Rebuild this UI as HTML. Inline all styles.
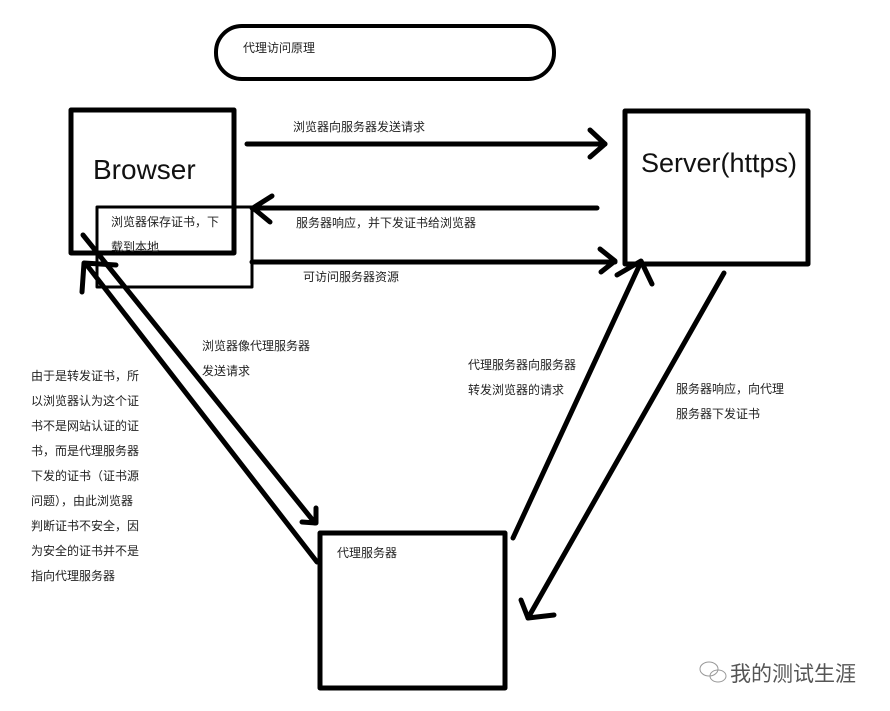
<!DOCTYPE html>
<html><head><meta charset="utf-8"><style>
html,body{margin:0;padding:0;background:#fff;}
svg{display:block;}
text{font-family:"Liberation Sans","Noto Sans CJK SC",sans-serif;fill:#222;font-size:12px;}
</style></head><body>
<svg width="890" height="711" viewBox="0 0 890 711" xmlns="http://www.w3.org/2000/svg">
<g fill="none" stroke="#000" stroke-linecap="round" stroke-linejoin="round">
<rect x="216" y="26" width="338" height="53" rx="26" stroke-width="4"/>
<rect x="71" y="110" width="163" height="143" stroke-width="5"/>
<rect x="97" y="207" width="155" height="80" stroke-width="3"/>
<rect x="625" y="111" width="183" height="153" stroke-width="5"/>
<rect x="320" y="533" width="185" height="155" stroke-width="5"/>
<g stroke-width="5">
<line x1="247" y1="144" x2="605" y2="144"/><polyline points="590,130 605,144 590,157"/>
<line x1="252" y1="208" x2="597" y2="208"/><polyline points="272,196 253,208 270,222"/>
<line x1="252" y1="262" x2="615" y2="262"/><polyline points="600,249 615,261 601,272"/>
<line x1="83" y1="235" x2="315" y2="523"/><polyline points="316,508 316,523 302,522"/>
<line x1="86" y1="264" x2="317" y2="562"/><polyline points="82,292 84,263 116,265"/>
<line x1="513" y1="538" x2="641" y2="262"/><polyline points="617,275 641,261 652,284"/>
<line x1="724" y1="273" x2="528" y2="618"/><polyline points="521,600 528,618 554,615"/>
</g>
</g>
<text x="243" y="52">代理访问原理</text>
<text x="93" y="179" style="font-size:28px;fill:#111">Browser</text>
<text x="641" y="172" style="font-size:27px;fill:#111">Server(https)</text>
<text x="111" y="226">浏览器保存证书，下</text>
<text x="111" y="251">载到本地</text>
<text x="293" y="131">浏览器向服务器发送请求</text>
<text x="296" y="227">服务器响应，并下发证书给浏览器</text>
<text x="303" y="281">可访问服务器资源</text>
<text x="337" y="557">代理服务器</text>
<text x="202" y="350">浏览器像代理服务器</text>
<text x="202" y="375">发送请求</text>
<text x="468" y="369">代理服务器向服务器</text>
<text x="468" y="394">转发浏览器的请求</text>
<text x="676" y="393">服务器响应，向代理</text>
<text x="676" y="418">服务器下发证书</text>
<g>
<text x="31" y="380">由于是转发证书，所</text>
<text x="31" y="405">以浏览器认为这个证</text>
<text x="31" y="430">书不是网站认证的证</text>
<text x="31" y="455">书，而是代理服务器</text>
<text x="31" y="480">下发的证书（证书源</text>
<text x="31" y="505">问题），由此浏览器</text>
<text x="31" y="530">判断证书不安全，因</text>
<text x="31" y="555">为安全的证书并不是</text>
<text x="31" y="580">指向代理服务器</text>
</g>
<g fill="none" stroke="#999" stroke-width="1">
<ellipse cx="709" cy="669" rx="9" ry="7"/>
<ellipse cx="718" cy="676" rx="8" ry="6"/>
</g>
<text x="730" y="681" style="font-size:21px;fill:#555">我的测试生涯</text>
</svg>
</body></html>
